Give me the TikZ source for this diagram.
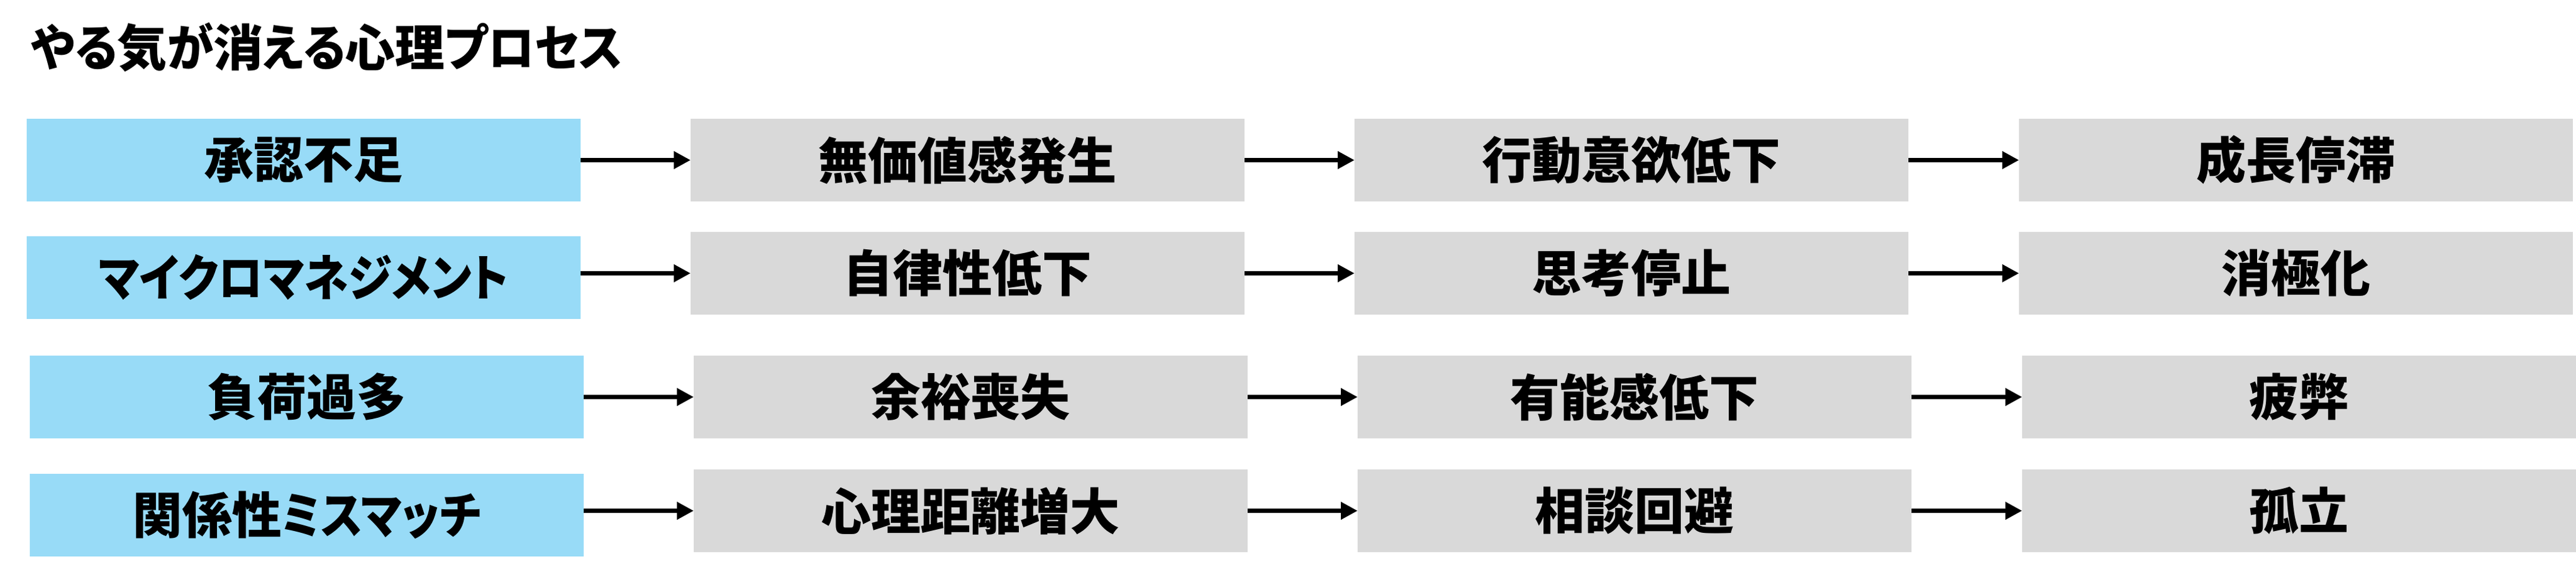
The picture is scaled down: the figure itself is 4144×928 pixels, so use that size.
\documentclass[tikz,border=0pt]{standalone}
\usepackage{fontspec}
\usepackage{graphicx}
\setmainfont{Noto Sans CJK JP}[RawFeature={+palt}]
\usetikzlibrary{arrows.meta}
\definecolor{srcblue}{RGB}{152,219,247}
\definecolor{effgray}{RGB}{217,217,217}
\newcommand{\narrowkana}[1]{\scalebox{0.89}[1]{#1}}
\newcommand{\titlekana}[1]{\scalebox{0.93}[1]{#1}}
\begin{document}
\begin{tikzpicture}[x=1pt,y=-1pt,
  box/.style={minimum width=891pt, minimum height=133pt, inner sep=0pt, outer sep=0pt,
    anchor=north west, text=black, font=\fontsize{80}{84}\selectfont\bfseries},
  srcbox/.style={box, fill=srcblue},
  effbox/.style={box, fill=effgray},
  arr/.style={line width=7pt, draw=black, -{Triangle[length=27pt,width=27pt]}},
  titletext/.style={anchor=base west, inner sep=0pt, font=\fontsize{80}{84}\selectfont\bfseries}
]
\useasboundingbox (0,0) rectangle (4144,928);
\node[titletext] (title) at (50,107) {\titlekana{やる}気\titlekana{が}消\titlekana{える}心理\titlekana{プロセス}};
% row 1
\node[srcbox] (a1) at (43,191) {承認不足};
\node[effbox] (b1) at (1111,191) {無価値感発生};
\node[effbox] (c1) at (2179,191) {行動意欲低下};
\node[effbox] (d1) at (3248,191) {成長停滞};
% row 2
\node[srcbox] (a2) at (43,380) {\narrowkana{マイクロマネジメント}};
\node[effbox] (b2) at (1111,373) {自律性低下};
\node[effbox] (c2) at (2179,373) {思考停止};
\node[effbox] (d2) at (3248,373) {消極化};
% row 3
\node[srcbox] (a3) at (48,572) {負荷過多};
\node[effbox] (b3) at (1116,572) {余裕喪失};
\node[effbox] (c3) at (2184,572) {有能感低下};
\node[effbox] (d3) at (3253,572) {疲弊};
% row 4
\node[srcbox] (a4) at (48,762) {関係性\narrowkana{ミスマッチ}};
\node[effbox] (b4) at (1116,755) {心理距離増大};
\node[effbox] (c4) at (2184,755) {相談回避};
\node[effbox] (d4) at (3253,755) {孤立};
% arrows
\foreach \r in {1,2,3,4}{
  \draw[arr] (a\r.east |- b\r.west) -- (b\r.west);
  \draw[arr] (b\r.east) -- (c\r.west);
  \draw[arr] (c\r.east) -- (d\r.west);
}
\end{tikzpicture}
\end{document}
